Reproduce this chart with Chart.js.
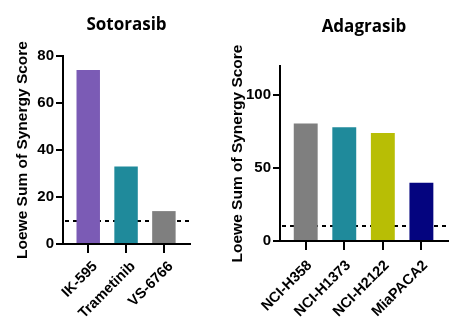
<!DOCTYPE html>
<html>
<head>
<meta charset="utf-8">
<script src="https://cdn.jsdelivr.net/npm/chart.js@4"></script>
<style>
  html, body { margin: 0; padding: 0; background: #fff; }
  #wrap { position: relative; width: 458px; height: 330px; }
  canvas { position: absolute; top: 0; }
  #soto { left: 0; }
  #adag { left: 228px; }
</style>
</head>
<body>
<div id="wrap">
  <canvas id="soto" width="228" height="330"></canvas>
  <canvas id="adag" width="230" height="330"></canvas>
</div>
<script>
    // --- DATA ---
    // Sotorasib combinations
    const sotoLabels = ['IK-595', 'Trametinib', 'VS-6766'];
    const sotoScores = [74, 33, 14];
    const sotoColors = ['#7b5bb5', '#1f8a9b', '#7f7f7f'];
    const sotoTicks = [0, 20, 40, 60, 80];

    // Adagrasib across cell lines
    const adagLabels = ['NCI-H358', 'NCI-H1373', 'NCI-H2122', 'MiaPACA2'];
    const adagScores = [80.5, 78, 74, 40];
    const adagColors = ['#7f7f7f', '#1f8a9b', '#b8be05', '#04047f'];
    const adagTicks = [0, 50, 100];

    // synergy cutoff (dashed line)
    const threshold = 10;

    const axisFont = { family: "'Liberation Sans', Arial, sans-serif", weight: 'bold' };
    const titleFont = { family: "'Open Sans', sans-serif", size: 17, weight: 'bold' };

    // cutoff dashes under the bars; x baseline + tick marks drawn last
    const cutoffLine = {
        id: 'cutoffLine',
        beforeDatasetsDraw(chart) {
            const { ctx, chartArea, scales } = chart;
            const y = Math.round(scales.y.getPixelForValue(threshold) - 1);
            ctx.save();
            ctx.fillStyle = '#000';
            for (let x = chartArea.left + 2; x < chartArea.right; x += 8) {
                ctx.fillRect(x, y, Math.min(4, chartArea.right - x), 2);
            }
            ctx.restore();
        },
        afterDraw(chart) {
            const { ctx, chartArea, scales } = chart;
            const base = Math.round(scales.y.getPixelForValue(0));
            const tl = scales.x.options.grid.tickLength;
            ctx.save();
            ctx.globalCompositeOperation = 'source-over';
            ctx.globalAlpha = 1;
            ctx.fillStyle = '#000';
            ctx.fillRect(Math.round(chartArea.left) - 1, base - 1, Math.round(chartArea.right - chartArea.left) + 1, 2);
            chart.data.datasets[0].data.forEach(d => {
                const px = Math.round(scales.x.getPixelForValue(d.x));
                ctx.fillRect(px - 1, base, 2, tl);
            });
            ctx.restore();
        }
    };

    function makeChart(id, opt) {
        const n = opt.labels.length;
        // bars sit on integer x positions, with a little room either side
        const xMin = -0.667;
        const xMax = n - 1 + 0.69;

        return new Chart(document.getElementById(id), {
            type: 'bar',
            data: {
                datasets: [{
                    data: opt.scores.map((v, i) => ({ x: i, y: v })),
                    backgroundColor: opt.colors,
                    borderWidth: 0,
                    barPercentage: 0.62,
                    categoryPercentage: 1
                }]
            },
            plugins: [cutoffLine],
            options: {
                responsive: false,
                animation: false,
                layout: { padding: { left: 0, right: opt.padRight, top: 0, bottom: 0 } },
                plugins: {
                    legend: { display: false },
                    tooltip: { enabled: false },
                    title: {
                        display: true,
                        text: opt.title,
                        color: '#000',
                        font: titleFont,
                        fullSize: false,
                        padding: opt.titlePad
                    }
                },
                scales: {
                    x: {
                        type: 'linear',
                        position: 'bottom',
                        offset: false,
                        min: xMin,
                        max: xMax,
                        afterBuildTicks: (s) => { s.ticks = opt.labels.map((_, i) => ({ value: i })); },
                        afterFit: (s) => { s.height = opt.xHeight; },
                        ticks: {
                            callback: (v) => opt.labels[v],
                            color: '#000',
                            font: { ...axisFont, size: 14.5 },
                            minRotation: 45,
                            maxRotation: 45,
                            padding: opt.xPad,
                            labelOffset: opt.xShift
                        },
                        grid: { offset: false, drawOnChartArea: false, color: '#000', lineWidth: 2, tickLength: 9 },
                        border: { display: true, color: '#000', width: 2 }
                    },
                    y: {
                        type: 'linear',
                        position: 'left',
                        min: 0,
                        max: opt.yMax,
                        afterBuildTicks: (s) => { s.ticks = opt.yTicks.map(v => ({ value: v })); },
                        afterFit: (s) => { s.width = opt.yWidth; },
                        ticks: {
                            color: '#000',
                            font: { ...axisFont, size: 15 },
                            padding: 2
                        },
                        grid: { drawOnChartArea: false, color: '#000', lineWidth: 2, tickLength: 7 },
                        border: { display: true, color: '#000', width: 2 },
                        title: {
                            display: true,
                            text: 'Loewe Sum of Synergy Score',
                            color: '#000',
                            font: { ...axisFont, size: 15.5 },
                            padding: { top: opt.yTitlePad, bottom: 0 }
                        }
                    }
                }
            }
        });
    }

    makeChart('soto', {
        title: 'Sotorasib',
        labels: sotoLabels, scores: sotoScores, colors: sotoColors,
        yTicks: sotoTicks, yMax: 80,
        yWidth: 63, xHeight: 86, padRight: 38, xPad: 5, xShift: 7,
        titlePad: { top: 15, bottom: 20.6 }, yTitlePad: 13.5
    });

    makeChart('adag', {
        title: 'Adagrasib',
        labels: adagLabels, scores: adagScores, colors: adagColors,
        yTicks: adagTicks, yMax: 120,
        yWidth: 52, xHeight: 89, padRight: 10, xPad: 7, xShift: 4,
        titlePad: { top: 17, bottom: 28.6 }, yTitlePad: 0
    });
</script>
</body>
</html>
